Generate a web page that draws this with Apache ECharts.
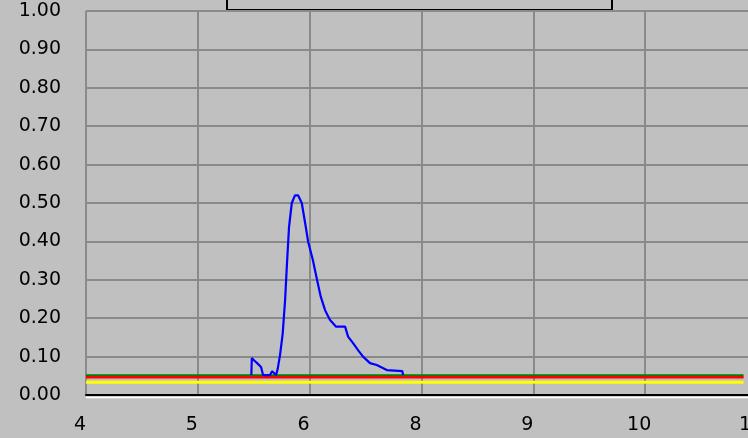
<!DOCTYPE html>
<html>
<head>
<meta charset="utf-8">
<script src="https://cdn.jsdelivr.net/npm/echarts@6/dist/echarts.min.js"></script>
<style>
  html, body { margin: 0; padding: 0; background: #c0c0c0; }
  #chart { width: 748px; height: 438px; }
</style>
</head>
<body>
<div id="chart"></div>
<script>
// x axis ticks: 4 .. 11 in 6 steps, labels are rounded
const xMin = 4;
const xMax = 11;
const xTickLabels = ['4', '5', '6', '8', '9', '10', '11'];
const yTickLabels = ['0.00', '0.10', '0.20', '0.30', '0.40', '0.50', '0.60', '0.70', '0.80', '0.90', '1.00'];

// flat baselines
const baseX = [4, 10.86];
const greenY = [0.051, 0.051];
const redY = [0.046, 0.046];
const yellowY = [0.033, 0.033];

// blue peak
const blueX = [5.725, 5.73, 5.755, 5.785, 5.805, 5.826, 5.847, 5.878, 5.92, 5.941, 5.983, 6.0, 6.024, 6.052, 6.077, 6.097, 6.118, 6.147, 6.18, 6.212, 6.251, 6.286, 6.317, 6.366, 6.41, 6.449, 6.494, 6.546, 6.609, 6.703, 6.734, 6.786, 6.838, 6.89, 6.963, 7.033, 7.138, 7.3, 7.308];
const blueY = [0.052, 0.096, 0.09, 0.083, 0.083, 0.073, 0.052, 0.052, 0.052, 0.062, 0.052, 0.068, 0.104, 0.16, 0.247, 0.344, 0.4375, 0.50, 0.52, 0.52, 0.50, 0.448, 0.40, 0.352, 0.30, 0.256, 0.221, 0.195, 0.178, 0.178, 0.152, 0.135, 0.117, 0.10, 0.083, 0.078, 0.065, 0.062, 0.052];

function pairs(xs, ys) {
    return xs.map(function (x, i) { return [x, ys[i]]; });
}

function initChart() {
    const chart = echarts.init(document.getElementById('chart'));

    const lineSeries = function (name, data, color, width) {
        return {
            name: name,
            type: 'line',
            data: data,
            symbol: 'none',
            animation: false,
            lineStyle: { color: color, width: width }
        };
    };

    const option = {
        backgroundColor: '#c0c0c0',
        animation: false,
        grid: { left: 86, right: -9, top: 11, bottom: 43, containLabel: false, outerBoundsMode: 'none' },
        xAxis: {
            type: 'value',
            min: xMin,
            max: xMax,
            interval: (xMax - xMin) / 6,
            axisLine: { show: true, onZero: false, lineStyle: { color: '#000', width: 2 } },
            axisTick: { show: false },
            splitLine: { show: true, lineStyle: { color: '#8a8a8a', width: 2 } },
            axisLabel: {
                showMinLabel: true,
                showMaxLabel: true,
                hideOverlap: false,
                margin: 21,
                padding: [0, 12, 0, 0],
                color: '#000',
                fontFamily: 'DejaVu Sans',
                fontSize: 19,
                formatter: function (v) {
                    const i = Math.round((v - xMin) / ((xMax - xMin) / 6));
                    return xTickLabels[i];
                }
            }
        },
        yAxis: {
            type: 'value',
            min: 0,
            max: 1,
            interval: 0.1,
            axisLine: { show: false },
            axisTick: { show: false },
            splitLine: { show: true, lineStyle: { color: '#8a8a8a', width: 2 } },
            axisLabel: {
                margin: 25,
                color: '#000',
                fontFamily: 'DejaVu Sans',
                fontSize: 19,
                formatter: function (v) {
                    return yTickLabels[Math.round(v * 10)];
                }
            }
        },
        graphic: [
            {
                type: 'rect',
                shape: { x: 227, y: -20, width: 385, height: 30 },
                style: { fill: '#c0c0c0', stroke: '#000', lineWidth: 2 }
            },
            {
                type: 'line',
                shape: { x1: 86, y1: 397.5, x2: 748, y2: 397.5 },
                style: { stroke: '#ffffff', lineWidth: 1.5 }
            }
        ],
        series: [
            lineSeries('yellow', pairs(baseX, yellowY), '#ffff00', 3),
            lineSeries('green', pairs(baseX, greenY), '#008000', 2.5),
            lineSeries('red', pairs(baseX, redY), '#ff0000', 2.5),
            lineSeries('blue', pairs(blueX, blueY), '#0000ff', 2.2)
        ]
    };

    chart.setOption(option);
}

window.onload = function () {
    initChart();
};
</script>
</body>
</html>
